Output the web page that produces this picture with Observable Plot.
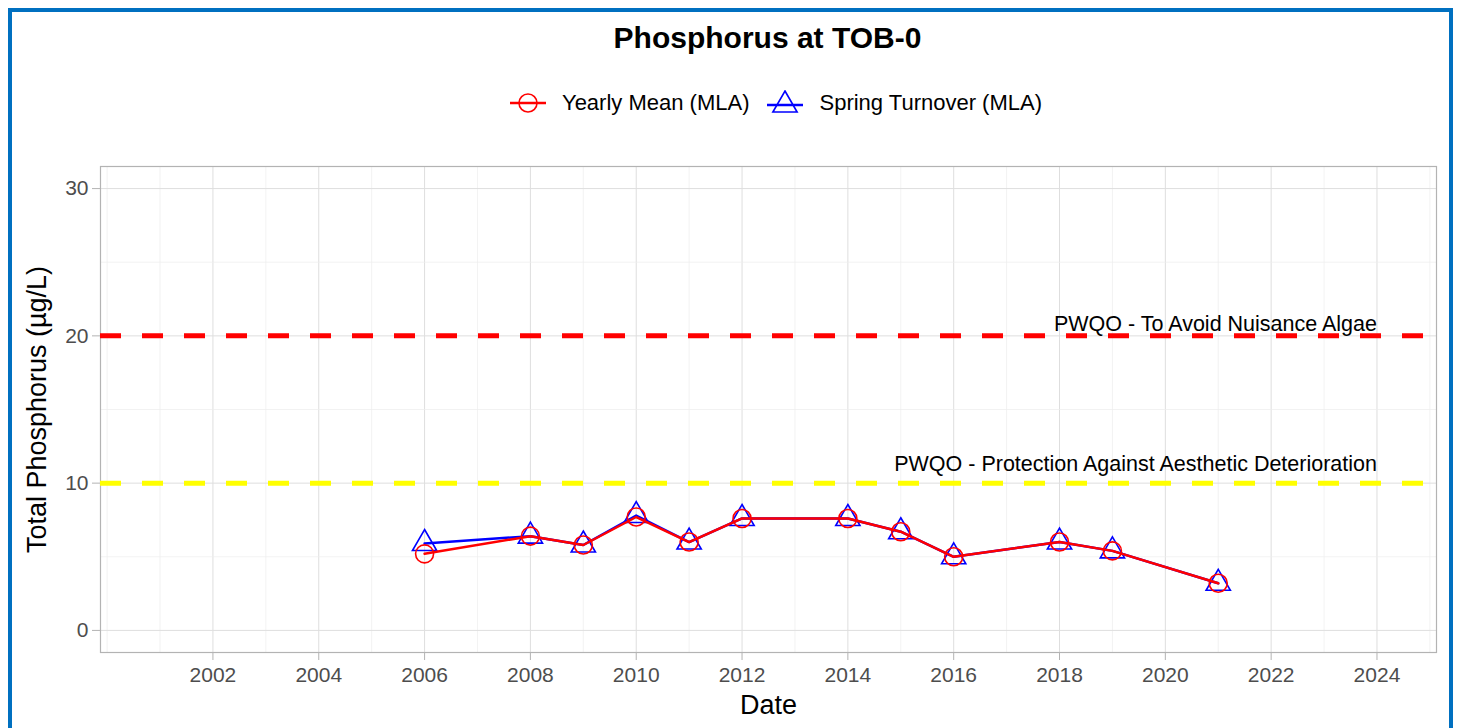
<!DOCTYPE html>
<html>
<head>
<meta charset="utf-8">
<script src="https://cdn.jsdelivr.net/npm/d3@7"></script>
<script src="https://cdn.jsdelivr.net/npm/@observablehq/plot@0.6"></script>
<style>
  html, body { margin: 0; padding: 0; background: #fff; }
  body { font-family: "Liberation Sans", Arial, sans-serif; }
  #wrap { position: relative; width: 1457px; height: 728px; overflow: hidden; }
  #border { position: absolute; left: 8px; top: 8px; width: 1437px; height: 760px; border: 4px solid #0070C0; }
  #title { position: absolute; top: 20px; left: 0; width: 1535px; text-align: center; font-weight: bold; font-size: 30px; line-height: 36px; color: #000; }
  #legend { position: absolute; top: 89px; left: 0; width: 1552px; height: 28px; display: flex; justify-content: center; align-items: center; font-size: 22px; color: #000; }
  .item { display: flex; align-items: center; margin: 0 9px; }
  .item svg { margin-right: 16px; }
  #chart { position: absolute; top: 130px; left: 0; }
</style>
</head>
<body>
<div id="wrap">
  <div id="title">Phosphorus at TOB-0</div>
  <div id="legend"></div>
  <div id="chart"></div>
  <div id="border"></div>
</div>
<script>
// ---- Data ----
const years = [2006, 2008, 2009, 2010, 2011, 2012, 2014, 2015, 2016, 2018, 2019, 2021];
const yearlyMean = [5.2, 6.4, 5.8, 7.7, 6.0, 7.6, 7.6, 6.7, 5.0, 6.0, 5.4, 3.2];
const springTurnover = [5.9, 6.4, 5.8, 7.8, 6.0, 7.6, 7.6, 6.7, 5.0, 6.0, 5.4, 3.2];
const seriesNames = ["Yearly Mean (MLA)", "Spring Turnover (MLA)"];
const xTickYears = [2002, 2004, 2006, 2008, 2010, 2012, 2014, 2016, 2018, 2020, 2022, 2024];
const yTickValues = [0, 10, 20, 30];
const thresholdValues = [20, 10];
const thresholdLabels = ["PWQO - To Avoid Nuisance Algae", "PWQO - Protection Against Aesthetic Deterioration"];
const thresholdLabelY = [20.8, 11.3];
const thresholdLabelX = [2024, 2024];

// ---- Build tables ----
const meanData = years.map((yr, i) => ({year: yr, value: yearlyMean[i]}));
const springData = years.map((yr, i) => ({year: yr, value: springTurnover[i]}));
const thresholdColors = ["#ff0000", "#ffff00"];
const thresholds = thresholdValues.map((v, i) => ({value: v, label: thresholdLabels[i], ly: thresholdLabelY[i], lx: thresholdLabelX[i], color: thresholdColors[i]}));
const allYears = d3.range(2000, 2026);
const majorX = allYears.filter(y => xTickYears.includes(y));
const minorX = allYears.filter(y => !xTickYears.includes(y));
const minorY = [5, 15, 25];

// ---- Legend ----
const legend = document.getElementById("legend");
legend.innerHTML = `
  <div class="item"><svg width="36" height="26"><line x1="0" x2="36" y1="13" y2="13" stroke="#ff0000" stroke-width="2.5"/><circle cx="18" cy="13" r="9" fill="none" stroke="#ff0000" stroke-width="1.6"/></svg><span>${seriesNames[0]}</span></div>
  <div class="item"><svg width="36" height="26"><line x1="0" x2="36" y1="15" y2="15" stroke="#0000ff" stroke-width="2.5"/><path d="${d3.symbol(d3.symbolTriangle, 81*Math.PI)()}" transform="translate(18,15)" fill="none" stroke="#0000ff" stroke-width="1.6"/></svg><span>${seriesNames[1]}</span></div>`;

// ---- Chart ----
const chart = Plot.plot({
  width: 1457,
  height: 598,
  marginLeft: 100,
  marginRight: 21,
  marginTop: 36,
  marginBottom: 76,
  style: {fontFamily: '"Liberation Sans", Arial, sans-serif', fontSize: "21px", background: "transparent"},
  x: {domain: [1999.875, 2025.125]},
  y: {domain: [-1.5, 31.5]},
  marks: [
    Plot.ruleX(minorX, {stroke: "#ececec", strokeWidth: 0.7}),
    Plot.ruleX(majorX, {stroke: "#dedede", strokeWidth: 1}),
    Plot.ruleY(minorY, {stroke: "#ececec", strokeWidth: 0.7}),
    Plot.ruleY(yTickValues, {stroke: "#dedede", strokeWidth: 1}),
    Plot.frame({stroke: "#b3b3b3", strokeWidth: 1.2}),
    Plot.ruleY(thresholds, {y: "value", stroke: "color", strokeWidth: 5, strokeDasharray: "21,21"}),
    Plot.text(thresholds, {x: "lx", y: "ly", text: "label", textAnchor: "end", fill: "#000", fontSize: 21.5}),
    Plot.line(springData, {x: "year", y: "value", stroke: "#0000ff", strokeWidth: 2.5}),
    Plot.dot(springData, {x: "year", y: "value", symbol: "triangle", r: 9, stroke: "#0000ff", strokeWidth: 1.6}),
    Plot.line(meanData, {x: "year", y: "value", stroke: "#ff0000", strokeWidth: 2.5}),
    Plot.dot(meanData, {x: "year", y: "value", symbol: "circle", r: 9, stroke: "#ff0000", strokeWidth: 1.6}),
    Plot.axisX({ticks: xTickYears, tickFormat: d => String(d), tickSize: 8, tickPadding: 7, stroke: "#b3b3b3", fill: "#4d4d4d", fontSize: 21, label: null}),
    Plot.axisY({ticks: yTickValues, tickSize: 8, tickPadding: 4, stroke: "#b3b3b3", fill: "#4d4d4d", fontSize: 21, label: null}),
    Plot.text(["Date"], {frameAnchor: "bottom", dy: 61, text: d => d, textAnchor: "middle", fontSize: 27, fill: "#000"}),
    Plot.text(["Total Phosphorus (µg/L)"], {frameAnchor: "left", dx: -63, rotate: -90, text: d => d, textAnchor: "middle", fontSize: 27, fill: "#000"})
  ]
});
document.getElementById("chart").appendChild(chart);
</script>
</body>
</html>
